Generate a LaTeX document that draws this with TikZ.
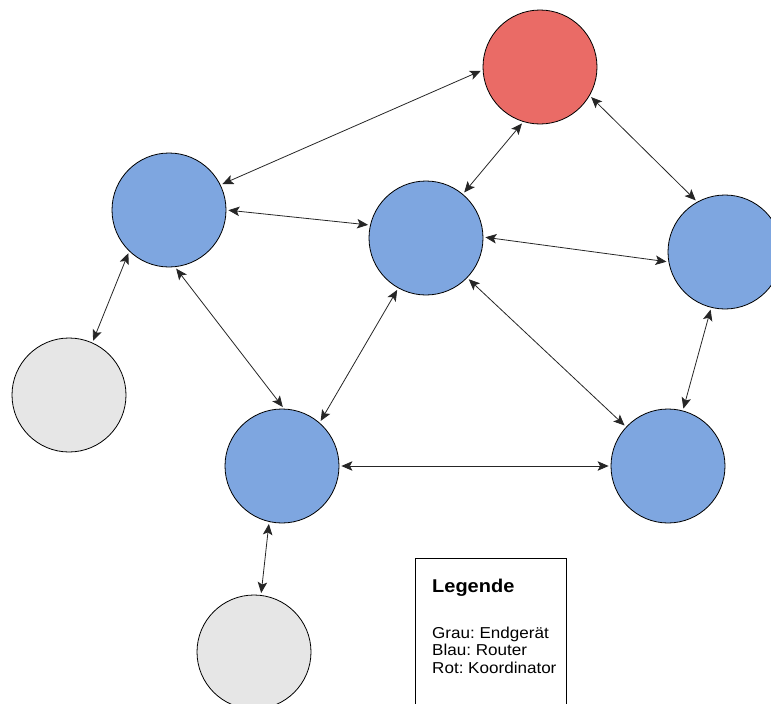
\documentclass[tikz,border=0pt]{standalone}
\usepackage{fontspec}
\setmainfont{Liberation Sans}
\newfontfamily\legfont{Liberation Sans}[FakeStretch=1.08]
\usetikzlibrary{arrows.meta}
\definecolor{nodered}{HTML}{EA6B66}
\definecolor{nodeblue}{HTML}{7EA6E0}
\definecolor{nodegray}{HTML}{E6E6E6}
\begin{document}
\begin{tikzpicture}[x=1pt,y=-1pt,
  circ/.style={circle,draw=black,line width=0.8pt,minimum size=114pt,inner sep=0pt},
  red/.style={circ,fill=nodered},
  blue/.style={circ,fill=nodeblue},
  gray/.style={circ,fill=nodegray},
  link/.style={line width=0.8pt,draw=black!85,{Stealth[length=11pt,width=9.5pt,inset=2.5pt]}-{Stealth[length=11pt,width=9.5pt,inset=2.5pt]},shorten <=2pt,shorten >=2pt},
  legtext/.style={anchor=base west,inner sep=0pt,font=\legfont\fontsize{15.8}{17.5}\selectfont\frenchspacing}
]
\useasboundingbox (0,0) rectangle (771,704);
\clip (0,0) rectangle (771,704);
\node[red]  (R)  at (540,67) {};
\node[blue] (TL) at (169,210) {};
\node[blue] (M)  at (426,238) {};
\node[blue] (RT) at (725,252) {};
\node[gray] (GL) at (69,395) {};
\node[blue] (BL) at (282,466) {};
\node[blue] (BR) at (668,466) {};
\node[gray] (GB) at (254,652) {};

\draw[link] (R.183) -- (TL.26);
\draw[link] (R.253) -- (M.50);
\draw[link] (R.330) -- (RT.119);
\draw[link] (TL.0) -- (M.167);
\draw[link] (M.1) -- (RT.190);
\draw[link] (TL.226) -- (GL.66);
\draw[link] (TL.276) -- (BL.88);
\draw[link] (M.241) -- (BL.49);
\draw[link] (M.316) -- (BR.137);
\draw[link] (RT.256) -- (BR.75);
\draw[link] (BL.0) -- (BR.180);
\draw[link] (BL.257) -- (GB.83);

\node[draw=black,line width=0.8pt,minimum width=151pt,minimum height=160pt,anchor=north west,inner sep=0pt] (leg) at (415,558) {};
\node[legtext,font=\legfont\fontsize{18.5}{20}\selectfont\bfseries] (lt) at (432,592) {Legende};
\node[legtext] (l1) at (432,638) {Grau: Endgerät};
\node[legtext] (l2) at (432,655.5) {Blau: Router};
\node[legtext] (l3) at (432,673) {Rot: Koordinator};
\end{tikzpicture}
\end{document}
